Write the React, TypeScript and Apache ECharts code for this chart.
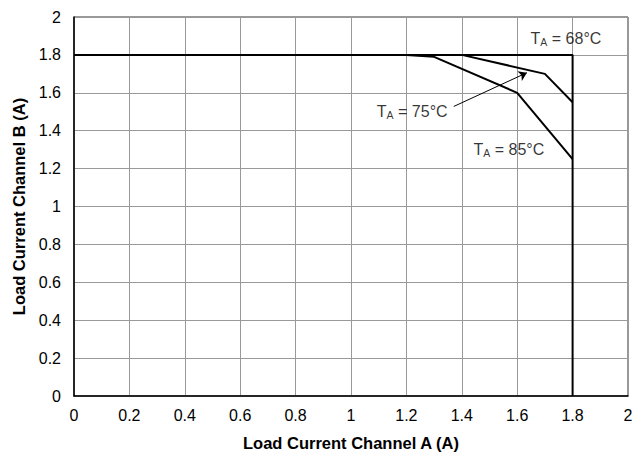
import React, { useEffect, useRef } from "react";
import * as echarts from "echarts";

const xTicks = [0, 0.2, 0.4, 0.6, 0.8, 1, 1.2, 1.4, 1.6, 1.8, 2];
const curve68: [number, number][] = [[0, 1.8], [1.8, 1.8], [1.8, 0]];
const curve75: [number, number][] = [[0, 1.8], [1.4, 1.8], [1.7, 1.7], [1.8, 1.55]];
const curve85: [number, number][] = [[0, 1.8], [1.2, 1.8], [1.3, 1.79], [1.6, 1.6], [1.8, 1.25]];
const labels: { name: string; temp: string; pos: [number, number] }[] = [
  { name: "68", temp: "68°C", pos: [1.776, 1.885] },
  { name: "75", temp: "75°C", pos: [1.221, 1.5] },
  { name: "85", temp: "85°C", pos: [1.57, 1.3] },
];
const arrow: [number, number][] = [[1.371, 1.528], [1.635, 1.706]];

const FONT = "Liberation Sans, Arial, sans-serif";

export default function App() {
  const ref = useRef<HTMLDivElement>(null);
  useEffect(() => {
    if (!ref.current) return;
    const chart = echarts.init(ref.current, undefined, { renderer: "svg" });
    const lineStyle = { color: "#000", width: 2 };
    chart.setOption({
      animation: false,
      backgroundColor: "#fff",
      textStyle: { fontFamily: FONT },
      grid: { left: 74, right: 15, top: 17, bottom: 58, show: true, borderColor: "#333", borderWidth: 1 },
      xAxis: {
        type: "value", min: 0, max: 2, interval: 0.2,
        name: "Load Current Channel A (A)", nameLocation: "middle", nameGap: 38,
        nameTextStyle: { fontFamily: FONT, fontSize: 16.5, fontWeight: "bold", color: "#000" },
        axisLine: { show: true, lineStyle: { color: "#000", width: 1.5 } },
        axisTick: { show: false },
        axisLabel: { fontFamily: FONT, fontSize: 16, color: "#000", margin: 11, formatter: (v: number) => String(+v.toFixed(1)) },
        splitLine: { show: true, lineStyle: { color: "#999", width: 1 } },
      },
      yAxis: {
        type: "value", min: 0, max: 2, interval: 0.2,
        name: "Load Current Channel B (A)", nameLocation: "middle", nameGap: 42,
        nameTextStyle: { fontFamily: FONT, fontSize: 16.5, fontWeight: "bold", color: "#000" },
        axisLine: { show: true, lineStyle: { color: "#000", width: 1.5 } },
        axisTick: { show: false },
        axisLabel: { fontFamily: FONT, fontSize: 16, color: "#000", margin: 13, formatter: (v: number) => String(+v.toFixed(1)) },
        splitLine: { show: true, lineStyle: { color: "#999", width: 1 } },
      },
      series: [
        { type: "line", data: curve85, symbol: "none", lineStyle, z: 3 },
        { type: "line", data: curve75, symbol: "none", lineStyle, z: 3 },
        { type: "line", data: curve68, symbol: "none", lineStyle, z: 4 },
        {
          type: "lines", coordinateSystem: "cartesian2d", polyline: false,
          symbol: ["none", "arrow"], symbolSize: 8,
          lineStyle: { color: "#000", width: 1, opacity: 1 },
          data: [{ coords: arrow }], z: 5,
        },
        {
          type: "scatter", symbolSize: 0, z: 6,
          data: labels.map((l) => ({ value: l.pos, temp: l.temp })),
          label: {
            show: true, position: "inside",
            formatter: (p: any) => `{t|T}{s|A}{t| = ${p.data.temp}}`,
            rich: {
              t: { fontFamily: FONT, fontSize: 16, color: "#000" },
              s: { fontFamily: FONT, fontSize: 10.5, color: "#000", verticalAlign: "bottom", padding: [7, 0, 0, 0] },
            },
          },
        },
      ],
    });
    return () => chart.dispose();
  }, []);
  return <div ref={ref} style={{ width: 643, height: 456, position: "absolute", left: 0, top: 0 }} />;
}
